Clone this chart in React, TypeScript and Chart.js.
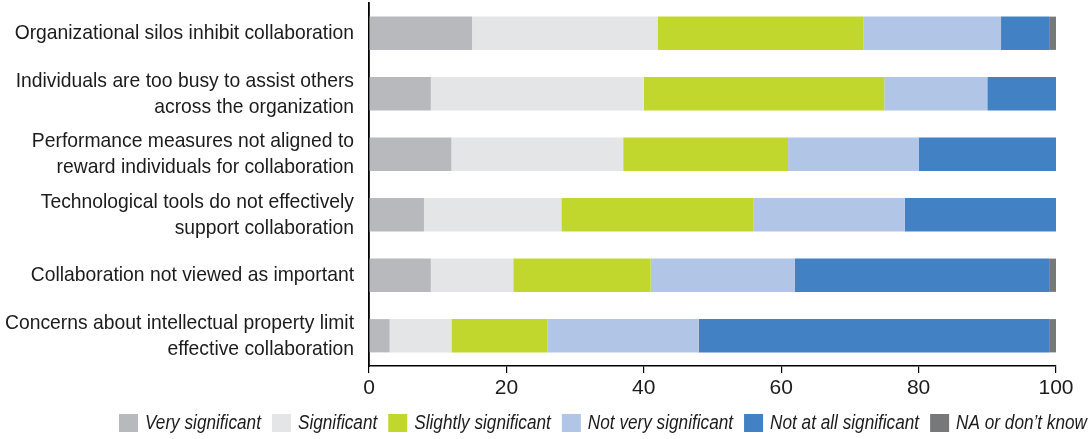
import React, { useEffect, useRef } from "react";
import { Chart, registerables } from "chart.js";

Chart.register(...registerables);

const categories: string[][] = [
  ["Organizational silos inhibit collaboration"],
  ["Individuals are too busy to assist others", "across the organization"],
  ["Performance measures not aligned to", "reward individuals for collaboration"],
  ["Technological tools do not effectively", "support collaboration"],
  ["Collaboration not viewed as important"],
  ["Concerns about intellectual property limit", "effective collaboration"],
];

const seriesNames = [
  "Very significant",
  "Significant",
  "Slightly significant",
  "Not very significant",
  "Not at all significant",
  "NA or don\u2019t know",
];

const verySignificant = [15, 9, 12, 8, 9, 3];
const significant = [27, 31, 25, 20, 12, 9];
const slightlySignificant = [30, 35, 24, 28, 20, 14];
const notVerySignificant = [20, 15, 19, 22, 21, 22];
const notAtAllSignificant = [7, 10, 20, 22, 37, 51];
const naOrDontKnow = [1, 0, 0, 0, 1, 1];

const xTicks = [0, 20, 40, 60, 80, 100];

const colors = ["#b8b9bd", "#e4e5e7", "#c2d72e", "#b1c5e6", "#4181c4", "#77787a"];

const FONT = "'Liberation Sans', Arial, Helvetica, sans-serif";
const TEXT = "#1c1c1c";

const labelPlugin = {
  id: "customText",
  afterDraw(chart: any) {
    const ctx: CanvasRenderingContext2D = chart.ctx;
    const yScale = chart.scales.y;
    // category labels (condensed look)
    const sx = 0.92;
    const right = 354;
    ctx.save();
    ctx.fillStyle = TEXT;
    ctx.font = `21px ${FONT}`;
    ctx.textAlign = "right";
    ctx.textBaseline = "middle";
    categories.forEach((lines, i) => {
      const cy = yScale.getPixelForValue(i);
      lines.forEach((line, k) => {
        const y = cy + (k - (lines.length - 1) / 2) * 26;
        ctx.save();
        ctx.translate(right, y);
        ctx.scale(sx, 1);
        ctx.fillText(line, 0, 0);
        ctx.restore();
      });
    });
    ctx.restore();

    // legend
    ctx.save();
    ctx.font = `italic 20px ${FONT}`;
    ctx.textBaseline = "middle";
    ctx.textAlign = "left";
    const box = 19;
    const boxGap = 7;
    const itemGap = 11;
    const startX = 119;
    const totalTarget = 968;
    const natural = seriesNames.map((n) => ctx.measureText(n).width);
    const naturalSum = natural.reduce((a, b) => a + b, 0);
    const fixed = seriesNames.length * (box + boxGap) + (seriesNames.length - 1) * itemGap;
    const s = (totalTarget - fixed) / naturalSum;
    const cy = 423;
    let x = startX;
    seriesNames.forEach((name, i) => {
      ctx.fillStyle = colors[i];
      ctx.fillRect(x, cy - 9, box, 18);
      x += box + boxGap;
      ctx.fillStyle = TEXT;
      ctx.save();
      ctx.translate(x, cy);
      ctx.scale(s, 1);
      ctx.fillText(name, 0, 0);
      ctx.restore();
      x += natural[i] * s + itemGap;
    });
    ctx.restore();
  },
};

export default function App() {
  const ref = useRef<HTMLCanvasElement | null>(null);

  useEffect(() => {
    if (!ref.current) return;
    const values = [
      verySignificant,
      significant,
      slightlySignificant,
      notVerySignificant,
      notAtAllSignificant,
      naOrDontKnow,
    ];
    const chart = new Chart(ref.current, {
      type: "bar",
      data: {
        labels: categories.map((c) => c.join(" ")),
        datasets: values.map((v, i) => ({
          label: seriesNames[i],
          data: v,
          backgroundColor: colors[i],
          borderWidth: 0,
          barPercentage: 0.55,
          categoryPercentage: 1,
        })),
      },
      options: {
        indexAxis: "y",
        animation: false,
        responsive: false,
        maintainAspectRatio: false,
        layout: { padding: { top: 3, right: 32, bottom: 39, left: 0 } },
        plugins: {
          tooltip: { enabled: false },
          legend: { display: false },
        },
        scales: {
          x: {
            stacked: true,
            min: 0,
            max: 100,
            afterBuildTicks: (scale: any) => {
              scale.ticks = xTicks.map((v) => ({ value: v }));
            },
            afterFit: (scale: any) => {
              scale.height = 34;
            },
            grid: {
              drawOnChartArea: false,
              drawTicks: true,
              tickLength: 7,
              color: "#000",
              lineWidth: 1.2,
            },
            border: { display: true, color: "#000", width: 1.5 },
            ticks: {
              color: TEXT,
              padding: 3,
              font: { family: FONT, size: 21 },
            },
          },
          y: {
            stacked: true,
            afterFit: (scale: any) => {
              scale.width = 369;
              scale.paddingTop = 0;
              scale.paddingBottom = 0;
            },
            grid: { display: false, drawTicks: false },
            border: { display: true, color: "#000", width: 1.8 },
            ticks: { display: false },
          },
        },
      },
      plugins: [labelPlugin],
    } as any);
    return () => chart.destroy();
  }, []);

  return (
    <div style={{ position: "absolute", left: 0, top: 0, width: 1088, height: 439, background: "#fff" }}>
      <canvas ref={ref} width={1088} height={439} style={{ width: 1088, height: 439, display: "block" }} />
    </div>
  );
}
